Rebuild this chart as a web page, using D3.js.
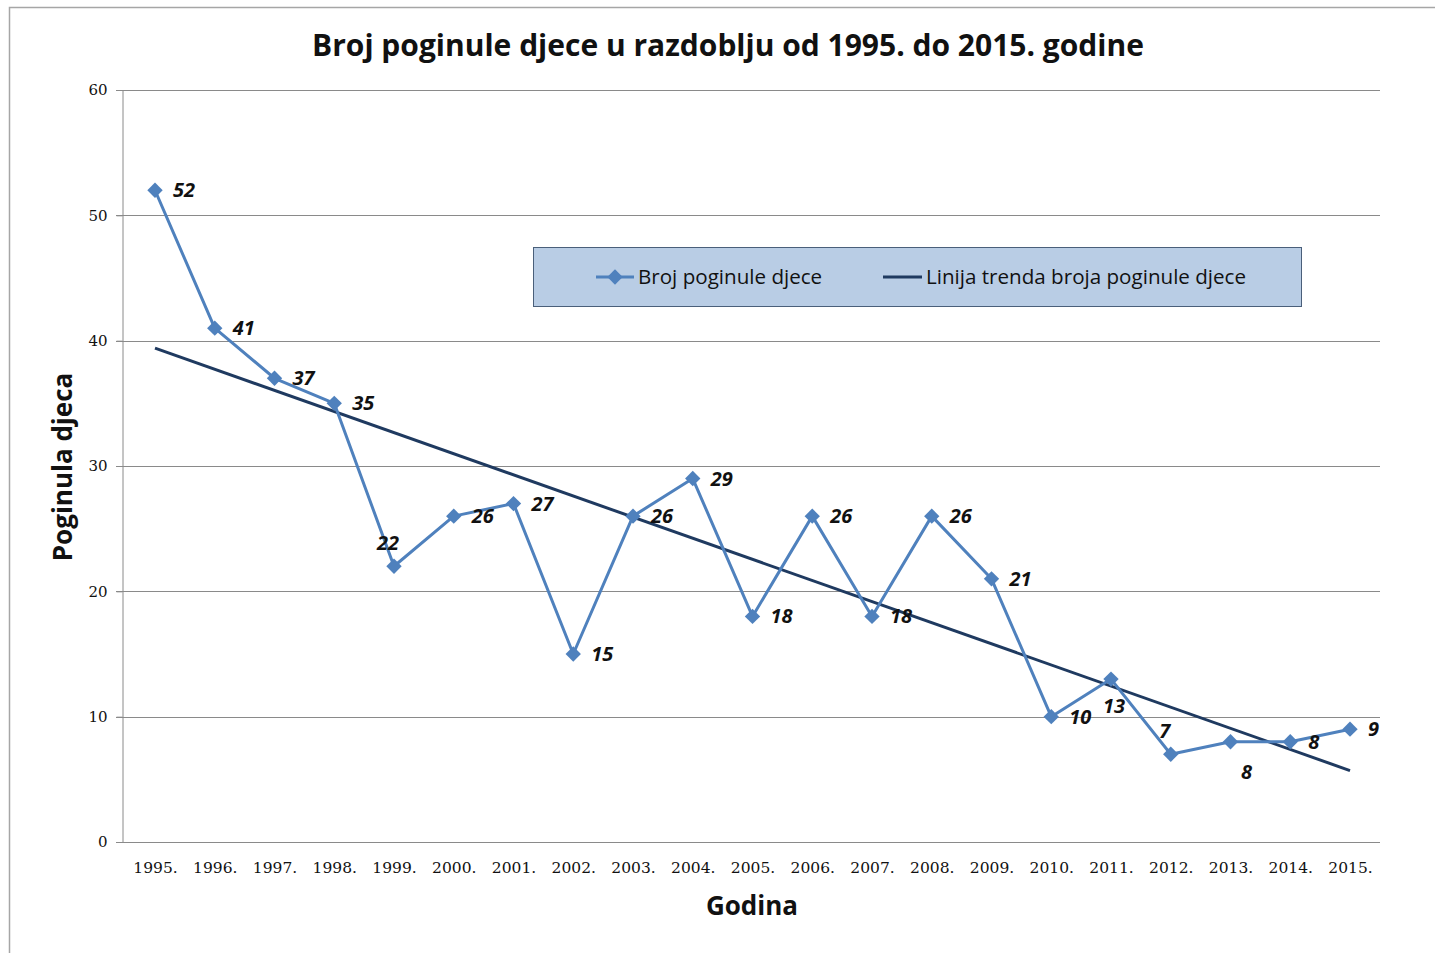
<!DOCTYPE html>
<html>
<head>
<meta charset="utf-8">
<script src="https://cdn.jsdelivr.net/npm/d3@7"></script>
<style>
  html, body { margin: 0; padding: 0; background: #fff; }
  svg { display: block; }
  text { font-family: "Open Sans", Lato, sans-serif; }
</style>
</head>
<body>
<svg id="chart" width="1435" height="953"></svg>
<script>
// ---- data ----
const years = ["1995.","1996.","1997.","1998.","1999.","2000.","2001.","2002.","2003.","2004.","2005.","2006.","2007.","2008.","2009.","2010.","2011.","2012.","2013.","2014.","2015."];
const deaths = [52,41,37,35,22,26,27,15,26,29,18,26,18,26,21,10,13,7,8,8,9];
const trendEnds = [39.4, 5.7]; // linear trend value at first and last year
const yTicks = [0,10,20,30,40,50,60];
const labelPlacement = ["r","r","r","r","a","r","r","r","r","r","r","r","r","r","r","r","b","a","br","r","r"];
const titleText = "Broj poginule djece u razdoblju od 1995. do 2015. godine";
const seriesName = "Broj poginule djece";
const trendName = "Linija trenda broja poginule djece";
const xTitle = "Godina";
const yTitle = "Poginula djeca";

// ---- layout ----
const svg = d3.select("#chart");
const plot = { left: 122, right: 1380, top: 90, bottom: 842 };
const blue = "#4f81bd";
const navy = "#1f3a60";
const gridColor = "#8a8a8a";

// outer border
svg.append("path")
  .attr("d", `M9.5,953 L9.5,7.5 L1435,7.5`)
  .attr("fill", "none").attr("stroke", "#a6a6a6").attr("stroke-width", 1.5);

const x = d3.scalePoint().domain(years).range([plot.left + 33, plot.right - 30]).padding(0);
const y = d3.scaleLinear().domain([0, 60]).range([plot.bottom, plot.top]);

// gridlines
svg.append("g").selectAll("line").data(yTicks).join("line")
  .attr("x1", plot.left - 6).attr("x2", plot.right)
  .attr("y1", d => Math.round(y(d)) + 0.5).attr("y2", d => Math.round(y(d)) + 0.5)
  .attr("stroke", gridColor).attr("stroke-width", 1);

// y axis
const yAxis = svg.append("g")
  .attr("transform", `translate(${plot.left + 0.5},0)`)
  .call(d3.axisLeft(y).tickValues(yTicks).tickSize(6).tickPadding(9));
yAxis.select(".domain").attr("stroke", gridColor);
yAxis.selectAll(".tick line").attr("stroke", gridColor);
yAxis.selectAll("text").attr("fill", "#111")
  .style("font-family", "'DejaVu Serif', serif").attr("font-size", 15);

// x axis
const xAxis = svg.append("g")
  .attr("transform", `translate(0,${Math.round(y(0)) + 0.5})`)
  .call(d3.axisBottom(x).tickSize(0).tickPadding(19));
xAxis.select(".domain").remove();
xAxis.selectAll("text").attr("fill", "#111")
  .style("font-family", "'DejaVu Serif', serif").attr("font-size", 15.5);

// trend line
svg.append("line")
  .attr("x1", x(years[0])).attr("y1", y(trendEnds[0]))
  .attr("x2", x(years[years.length - 1])).attr("y2", y(trendEnds[1]))
  .attr("stroke", navy).attr("stroke-width", 3);

// series line
const line = d3.line().x((d, i) => x(years[i])).y(d => y(d));
svg.append("path").datum(deaths)
  .attr("d", line).attr("fill", "none")
  .attr("stroke", blue).attr("stroke-width", 3).attr("stroke-linejoin", "round");

// markers
const diamond = d3.symbol().type(d3.symbolDiamond2).size(150);
svg.append("g").selectAll("path").data(deaths).join("path")
  .attr("d", diamond)
  .attr("transform", (d, i) => `translate(${x(years[i])},${y(d)})`)
  .attr("fill", blue);

// data labels
const offsets = { r: [18, 7, "start"], a: [-6, -16, "middle"], b: [3, 34, "middle"], br: [16, 37, "middle"] };
svg.append("g").selectAll("text").data(deaths).join("text")
  .attr("x", (d, i) => x(years[i]) + offsets[labelPlacement[i]][0])
  .attr("y", (d, i) => y(d) + offsets[labelPlacement[i]][1])
  .attr("text-anchor", (d, i) => offsets[labelPlacement[i]][2])
  .attr("font-size", 20).attr("font-weight", "bold").attr("font-style", "italic")
  .attr("fill", "#111")
  .text(d => d);

// title
svg.append("text").attr("x", 728).attr("y", 56).attr("text-anchor", "middle")
  .attr("font-size", 30).attr("font-weight", "bold").attr("fill", "#111")
  .text(titleText);

// axis titles
svg.append("text").attr("x", 752).attr("y", 915).attr("text-anchor", "middle")
  .attr("font-size", 26).attr("font-weight", "bold").attr("fill", "#111")
  .text(xTitle);
svg.append("text").attr("transform", "translate(72,467) rotate(-90)").attr("text-anchor", "middle")
  .attr("font-size", 26).attr("font-weight", "bold").attr("fill", "#111")
  .text(yTitle);

// legend
const lg = svg.append("g");
lg.append("rect").attr("x", 533.5).attr("y", 247.5).attr("width", 768).attr("height", 59)
  .attr("fill", "#b9cde5").attr("stroke", "#4a5f7a").attr("stroke-width", 1);
const ly = 277;
lg.append("line").attr("x1", 596).attr("x2", 634).attr("y1", ly).attr("y2", ly)
  .attr("stroke", blue).attr("stroke-width", 3);
lg.append("path").attr("d", diamond).attr("transform", `translate(615,${ly})`).attr("fill", blue);
lg.append("text").attr("x", 638).attr("y", ly + 7).attr("font-size", 20.6).attr("fill", "#111").text(seriesName);
lg.append("line").attr("x1", 883).attr("x2", 922).attr("y1", ly).attr("y2", ly)
  .attr("stroke", navy).attr("stroke-width", 3);
lg.append("text").attr("x", 926).attr("y", ly + 7).attr("font-size", 20.6).attr("fill", "#111").text(trendName);
</script>
</body>
</html>
